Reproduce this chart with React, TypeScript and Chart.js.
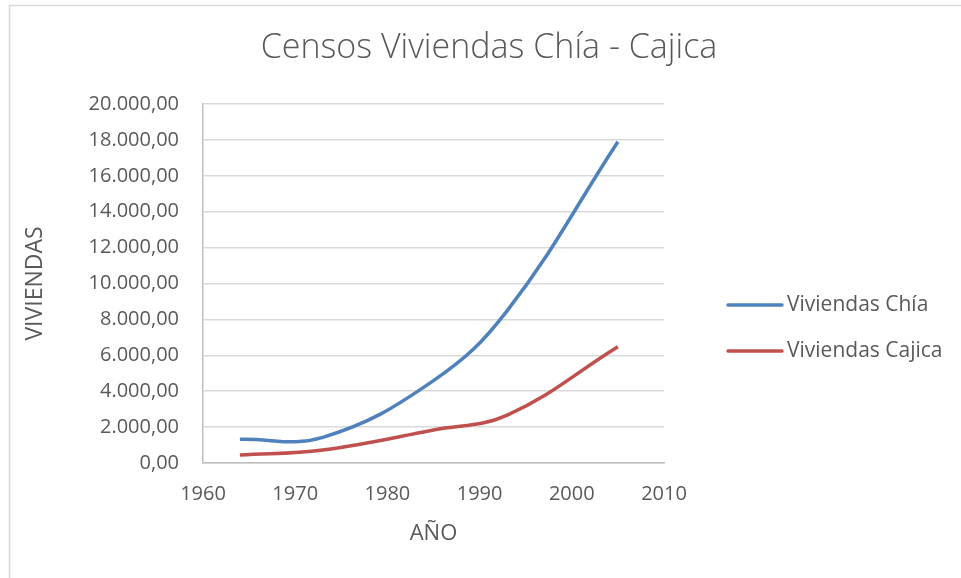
import React, { useEffect, useRef } from "react";
import { Chart, registerables } from "chart.js";

Chart.register(...registerables);

const years = [1964, 1973, 1985, 1993, 2005];
const viviendasChia = [1320, 1430, 4590, 8490, 17900];
const viviendasCajica = [445, 725, 1840, 2670, 6480];
const seriesLabels = ["Viviendas Chía", "Viviendas Cajica"];
const seriesColors = ["#4f81bd", "#c0504d"];
const chartTitle = "Censos Viviendas Chía - Cajica";
const xTitle = "AÑO";
const yTitle = "VIVIENDAS";

const FONT = "'Open Sans', 'DejaVu Sans', sans-serif";
const TEXT = "#595959";

function formatEs(v: number): string {
  const fixed = Math.abs(v).toFixed(2);
  const [intPart, dec] = fixed.split(".");
  const withDots = intPart.replace(/\B(?=(\d{3})+(?!\d))/g, ".");
  return (v < 0 ? "-" : "") + withDots + "," + dec;
}

const frameTitleLegend = {
  id: "frameTitleLegend",
  afterDraw(chart: any) {
    const ctx = chart.ctx;
    ctx.save();
    // outer frame
    ctx.strokeStyle = "#d9d9d9";
    ctx.lineWidth = 1.5;
    ctx.beginPath();
    ctx.moveTo(9.5, 600);
    ctx.lineTo(9.5, 5.5);
    ctx.lineTo(1000, 5.5);
    ctx.stroke();
    // title
    ctx.fillStyle = TEXT;
    ctx.font = `300 34px ${FONT}`;
    ctx.textAlign = "center";
    ctx.textBaseline = "middle";
    ctx.fillText(chartTitle, 489, 48);
    // legend
    const x0 = 728;
    const x1 = 782;
    const rows = [305, 351];
    ctx.font = `21px ${FONT}`;
    ctx.textBaseline = "middle";
    ctx.textAlign = "left";
    chart.data.datasets.forEach((ds: any, i: number) => {
      const y = rows[i];
      ctx.strokeStyle = ds.borderColor;
      ctx.lineWidth = 3.5;
      ctx.lineCap = "round";
      ctx.beginPath();
      ctx.moveTo(x0, y);
      ctx.lineTo(x1, y);
      ctx.stroke();
      ctx.fillStyle = TEXT;
      ctx.fillText(ds.label, 787, y);
    });
    ctx.restore();
  },
};

export default function App() {
  const canvasRef = useRef<HTMLCanvasElement | null>(null);

  useEffect(() => {
    if (!canvasRef.current) return;
    const chart = new Chart(canvasRef.current, {
      type: "scatter",
      data: {
        datasets: [
          {
            label: seriesLabels[0],
            data: years.map((y, i) => ({ x: y, y: viviendasChia[i] })),
            borderColor: seriesColors[0],
            backgroundColor: seriesColors[0],
            showLine: true,
            borderWidth: 3.5,
            pointRadius: 0,
            tension: 0.4,
          },
          {
            label: seriesLabels[1],
            data: years.map((y, i) => ({ x: y, y: viviendasCajica[i] })),
            borderColor: seriesColors[1],
            backgroundColor: seriesColors[1],
            showLine: true,
            borderWidth: 3.5,
            pointRadius: 0,
            tension: 0.4,
          },
        ],
      },
      options: {
        animation: false,
        responsive: false,
        maintainAspectRatio: false,
        layout: { padding: { left: 0, right: 297, top: 104, bottom: 0 } },
        plugins: {
          legend: { display: false },
          tooltip: { enabled: false },
          title: { display: false },
        },
        scales: {
          x: {
            type: "linear",
            min: 1960,
            max: 2010,
            afterFit(scale: any) {
              scale.height = 115;
            },
            ticks: {
              stepSize: 10,
              color: TEXT,
              font: { family: FONT, size: 20 },
              padding: 19,
              maxRotation: 0,
              callback: (v: any) => String(v),
            },
            grid: { display: false, drawTicks: false },
            border: { display: true, color: "#bfbfbf", width: 1.5 },
            title: {
              display: true,
              text: xTitle,
              color: TEXT,
              font: { family: FONT, size: 22, lineHeight: 1.2 },
              padding: { top: 0, bottom: 31 },
            },
          },
          y: {
            type: "linear",
            min: 0,
            max: 20000,
            afterFit(scale: any) {
              scale.width = 203;
            },
            ticks: {
              stepSize: 2000,
              color: TEXT,
              font: { family: FONT, size: 20 },
              padding: 24,
              callback: (v: any) => formatEs(Number(v)),
            },
            grid: { color: "#d9d9d9", lineWidth: 1.5, drawTicks: false },
            border: { display: true, color: "#bfbfbf", width: 1.5 },
            title: {
              display: true,
              text: yTitle,
              color: TEXT,
              font: { family: FONT, size: 23, lineHeight: 1.2 },
              padding: { top: 22, bottom: 0 },
            },
          },
        },
      },
      plugins: [frameTitleLegend],
    });
    return () => chart.destroy();
  }, []);

  return (
    <div style={{ position: "fixed", left: 0, top: 0, width: 961, height: 578, background: "#fff" }}>
      <canvas ref={canvasRef} width={961} height={578} style={{ width: 961, height: 578 }} />
    </div>
  );
}
